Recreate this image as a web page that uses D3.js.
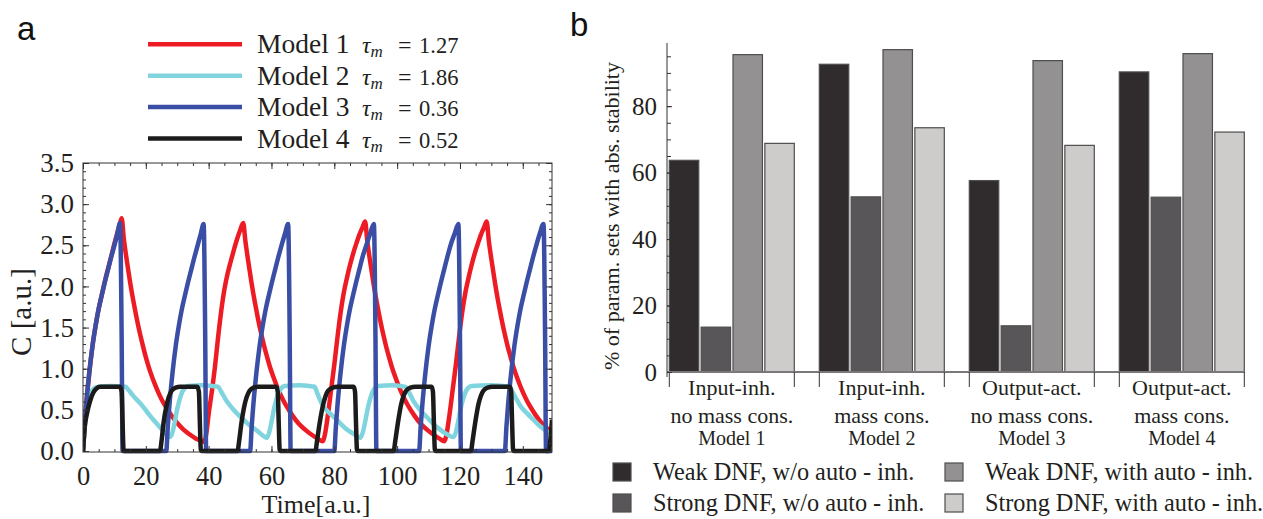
<!DOCTYPE html>
<html><head><meta charset="utf-8">
<script src="https://cdn.jsdelivr.net/npm/d3@7"></script>
<style>body{margin:0;background:#fff} svg{display:block}</style>
</head><body>
<svg id="chart" width="1263" height="519"></svg>
<script>
// ---------- Panel a data ----------
const modelNames = ["Model 1", "Model 2", "Model 3", "Model 4"];
const tauValues = ["1.27", "1.86", "0.36", "0.52"];
const lineColors = ["#ed1c24", "#7fd4dd", "#3a4ea6", "#1b1b1b"];
const timeTicks = [0, 20, 40, 60, 80, 100, 120, 140];
const cTicks = [0, 0.5, 1, 1.5, 2, 2.5, 3, 3.5];

const model1 = [[0,0],[1,0.55],[2,0.95],[3,1.27],[4,1.52],[5,1.73],[6,1.9],[7,2.07],[8,2.22],[9,2.37],[10,2.52],[11,2.66],[11.8,2.77],[12.3,2.83],
[13,2.58],[14,2.3],[15,2.05],[16,1.83],[17,1.63],[18,1.45],[19,1.29],[20,1.14],[21,1.01],[22,0.9],[23,0.8],[24,0.71],[25,0.63],[26,0.56],[28,0.44],[30,0.34],[32,0.26],[34,0.2],[36,0.15],[38,0.12],[38.6,0.11],
[39.2,0.2],[40,0.45],[41,0.72],[42,1.02],[43,1.38],[44,1.7],[45,1.96],[46,2.15],[47,2.3],[48,2.44],[49,2.57],[50,2.68],[51,2.77],
[51.7,2.55],[52.7,2.28],[53.7,2.03],[54.7,1.81],[55.7,1.61],[56.7,1.43],[57.7,1.27],[58.7,1.13],[59.7,1.0],[60.7,0.89],[61.7,0.79],[62.7,0.7],[63.7,0.62],[64.7,0.55],[66.7,0.43],[68.7,0.33],[70.7,0.26],[72.7,0.2],[74.7,0.15],[76.3,0.12],
[77,0.2],[78,0.45],[79,0.75],[80,1.05],[81,1.38],[82,1.68],[83,1.92],[84,2.1],[85,2.26],[86,2.4],[87,2.52],[88,2.63],[89,2.72],[89.8,2.79],
[90.5,2.55],[91.5,2.28],[92.5,2.03],[93.5,1.81],[94.5,1.61],[95.5,1.43],[96.5,1.27],[97.5,1.13],[98.5,1.0],[99.5,0.89],[100.5,0.79],[101.5,0.7],[102.5,0.62],[103.5,0.55],[105.5,0.43],[107.5,0.33],[109.5,0.26],[111.5,0.2],[113.5,0.15],[115,0.12],
[115.7,0.2],[116.7,0.45],[117.7,0.75],[118.7,1.05],[119.7,1.38],[120.7,1.68],[121.7,1.92],[122.7,2.1],[123.7,2.26],[124.7,2.4],[125.7,2.52],[126.7,2.63],[127.7,2.72],[128.5,2.79],
[129.2,2.55],[130.2,2.28],[131.2,2.03],[132.2,1.81],[133.2,1.61],[134.2,1.43],[135.2,1.27],[136.2,1.13],[137.2,1.0],[138.2,0.89],[139.2,0.79],[140.2,0.7],[141.2,0.62],[142.2,0.55],[144.2,0.43],[146.2,0.33],[148.2,0.26],[149.3,0.22]];

const model2 = [[0,0],[0.7,0.35],[1.5,0.58],[2.5,0.71],[3.5,0.76],[5,0.78],[9,0.79],[13.5,0.78],
[14.5,0.74],[16,0.67],[18.2,0.58],[20.3,0.48],[22.4,0.38],[24.5,0.29],[26.6,0.2],[27.7,0.17],
[28.5,0.23],[29.3,0.37],[30,0.51],[30.8,0.63],[31.6,0.72],[32.5,0.77],[33.5,0.79],[38,0.8],[43,0.78],
[44,0.72],[45.5,0.62],[47.5,0.52],[50,0.42],[52.5,0.33],[55.3,0.25],[57.2,0.19],[58.5,0.16],
[59.3,0.23],[60.1,0.37],[60.8,0.51],[61.6,0.63],[62.4,0.72],[63.3,0.77],[64.3,0.79],[69,0.8],[73.7,0.78],
[74.6,0.7],[76.2,0.56],[78.5,0.46],[80.5,0.39],[82.3,0.32],[84,0.26],[86.5,0.2],[88.3,0.16],
[89.1,0.23],[89.9,0.37],[90.6,0.51],[91.4,0.63],[92.2,0.72],[93.1,0.77],[94.1,0.79],[98.5,0.8],[102.7,0.78],
[103.7,0.72],[105.3,0.6],[107.3,0.5],[109.5,0.41],[111.5,0.33],[113.7,0.26],[116,0.2],[117.9,0.17],
[118.7,0.23],[119.5,0.37],[120.2,0.51],[121,0.63],[121.8,0.72],[122.7,0.77],[123.7,0.79],[130,0.8],[135.8,0.78],
[136.8,0.71],[138,0.63],[139.2,0.55],[141.3,0.46],[143.4,0.38],[145.5,0.3],[147.6,0.24],[149.3,0.19]];

const model3 = [[0,0],[0.5,0.3],[1,0.55],[2,0.95],[3,1.27],[4,1.52],[5,1.73],[6,1.9],[7,2.06],[8,2.21],[9,2.36],[10,2.5],[11,2.65],[11.8,2.77],[12.3,1.4],[12.6,0],
[26.5,0],[27,0.3],[27.5,0.55],[28.5,0.95],[29.5,1.27],[30.5,1.52],[31.5,1.73],[32.5,1.9],[33.5,2.06],[34.5,2.21],[35.5,2.36],[36.5,2.5],[37.5,2.64],[38.4,2.76],[38.9,1.4],[39.2,0],
[53.2,0],[53.7,0.3],[54.2,0.55],[55.2,0.95],[56.2,1.27],[57.2,1.52],[58.2,1.73],[59.2,1.9],[60.2,2.06],[61.2,2.21],[62.2,2.36],[63.2,2.5],[64.3,2.64],[65.3,2.76],[65.8,1.4],[66.1,0],
[80,0],[80.5,0.3],[81,0.55],[82,0.95],[83,1.27],[84,1.52],[85,1.73],[86,1.9],[87,2.06],[88,2.21],[89,2.36],[90.2,2.5],[91.4,2.64],[92.6,2.76],[93.1,1.4],[93.4,0],
[107,0],[107.5,0.3],[108,0.55],[109,0.95],[110,1.27],[111,1.52],[112,1.73],[113,1.9],[114,2.06],[115,2.21],[116,2.36],[117,2.5],[118.3,2.64],[119.5,2.76],[120,1.4],[120.3,0],
[134.3,0],[134.8,0.3],[135.3,0.55],[136.3,0.95],[137.3,1.27],[138.3,1.52],[139.3,1.73],[140.3,1.9],[141.3,2.06],[142.3,2.21],[143.3,2.36],[144.3,2.5],[145.4,2.64],[146.6,2.76],[147.1,1.4],[147.4,0],[149.3,0]];

const model4 = [[0,0],[0.5,0.28],[1.3,0.46],[2.2,0.6],[3.3,0.71],[4.3,0.76],[5.5,0.78],[11.8,0.78],[12.3,0.72],[12.6,0.35],[12.9,0.02],[13.2,0],
[24.5,0],[25,0.12],[25.6,0.33],[26.7,0.57],[28.2,0.73],[29.5,0.77],[30.9,0.78],[36.4,0.78],[36.9,0.72],[37.2,0.35],[37.5,0.02],[37.8,0],
[49.2,0],[49.7,0.12],[50.4,0.33],[51.5,0.57],[53,0.73],[54.3,0.77],[55.7,0.78],[61.5,0.78],[62,0.72],[62.3,0.35],[62.6,0.02],[62.9,0],
[74,0],[74.5,0.12],[75.3,0.33],[76.5,0.57],[78,0.73],[79.5,0.77],[81,0.78],[86.2,0.78],[86.6,0.72],[86.9,0.35],[87.2,0.02],[87.5,0],
[98.9,0],[99.4,0.12],[100.2,0.33],[101.3,0.57],[102.8,0.73],[104.2,0.77],[105.8,0.78],[111,0.78],[111.4,0.72],[111.7,0.35],[112,0.02],[112.3,0],
[123.5,0],[124,0.12],[124.8,0.33],[125.9,0.57],[127.4,0.73],[128.8,0.77],[130.3,0.78],[135.9,0.78],[136.3,0.72],[136.6,0.35],[136.9,0.02],[137.2,0],
[148.3,0],[148.8,0.15],[149.3,0.38]];

// ---------- Panel b data ----------
const categoryLine1 = ["Input-inh.", "Input-inh.", "Output-act.", "Output-act."];
const categoryLine2 = ["no mass cons.", "mass cons.", "no mass cons.", "mass cons."];
const categoryModel = ["Model 1", "Model 2", "Model 3", "Model 4"];
const barSeriesNames = ["Weak DNF, w/o auto - inh.", "Strong DNF, w/o auto - inh.", "Weak DNF, with auto - inh.", "Strong DNF, with auto - inh."];
const weakWithout = [63.7, 92.6, 57.6, 90.3];
const strongWithout = [13.5, 52.7, 13.9, 52.6];
const weakWith = [95.5, 97.0, 93.7, 95.8];
const strongWith = [68.8, 73.5, 68.2, 72.2];
const barColors = ["#302c2e", "#59565a", "#939192", "#cdccca"];
const pctTicks = [0, 20, 40, 60, 80];

// ---------- drawing ----------
const svg = d3.select("#chart");
const SERIF = "'Liberation Serif','Times New Roman',serif";
const SANS = "'Liberation Sans',Arial,sans-serif";
const INK = "#231f20";

function styleAxis(g, size) {
  g.attr("font-family", SERIF).attr("font-size", size);
  g.select(".domain").remove();
  g.selectAll("line").attr("stroke", "#333").attr("stroke-width", 1);
  g.selectAll("text").attr("font-family", SERIF).attr("font-size", size).attr("fill", INK);
}

// Panel a
const xA = d3.scaleLinear().domain([0, 149.3]).range([83, 552]);
const yA = d3.scaleLinear().domain([0, 3.5]).range([451, 163]);
const frameTop = 163, frameBottom = 452, frameLeft = 83, frameRight = 552;
const minorT = d3.range(0, 150, 5);
const minorC = d3.range(0, 3.51, 0.1);

svg.append("defs").append("clipPath").attr("id", "clipA")
  .append("rect").attr("x", frameLeft).attr("y", frameTop - 5)
  .attr("width", frameRight - frameLeft).attr("height", frameBottom - frameTop + 10);

const gA = svg.append("g");
const lineGen = d3.line().x(d => xA(d[0])).y(d => yA(d[1])).curve(d3.curveMonotoneX);
const seriesA = [model1, model2, model3, model4];
gA.append("g").attr("clip-path", "url(#clipA)")
  .selectAll("path").data(seriesA).join("path")
  .attr("d", d => lineGen(d))
  .attr("fill", "none")
  .attr("stroke", (d, i) => lineColors[i])
  .attr("stroke-width", 4.5)
  .attr("stroke-linejoin", "round");

// frame
gA.append("rect").attr("x", frameLeft).attr("y", frameTop)
  .attr("width", frameRight - frameLeft).attr("height", frameBottom - frameTop)
  .attr("fill", "none").attr("stroke", "#333").attr("stroke-width", 1);

// ticks
gA.append("g").attr("transform", `translate(0,${frameBottom})`)
  .call(d3.axisBottom(xA).tickValues(minorT).tickSize(-3).tickSizeOuter(0).tickFormat(""))
  .call(g => styleAxis(g, 26));
gA.append("g").attr("transform", `translate(0,${frameBottom})`)
  .call(d3.axisBottom(xA).tickValues(timeTicks).tickSize(-6).tickSizeOuter(0).tickPadding(14).tickFormat(d3.format("d")))
  .call(g => styleAxis(g, 26.5));
gA.append("g").attr("transform", `translate(0,${frameTop})`)
  .call(d3.axisTop(xA).tickValues(minorT).tickSize(-3).tickSizeOuter(0).tickFormat(""))
  .call(g => styleAxis(g, 27));
gA.append("g").attr("transform", `translate(0,${frameTop})`)
  .call(d3.axisTop(xA).tickValues(timeTicks).tickSize(-6).tickSizeOuter(0).tickFormat(""))
  .call(g => styleAxis(g, 27));
gA.append("g").attr("transform", `translate(${frameLeft},0)`)
  .call(d3.axisLeft(yA).tickValues(minorC).tickSize(-3).tickSizeOuter(0).tickFormat(""))
  .call(g => styleAxis(g, 27));
gA.append("g").attr("transform", `translate(${frameLeft},0)`)
  .call(d3.axisLeft(yA).tickValues(cTicks).tickSize(-6).tickSizeOuter(0).tickPadding(9).tickFormat(d3.format(".1f")))
  .call(g => styleAxis(g, 27));
gA.append("g").attr("transform", `translate(${frameRight},0)`)
  .call(d3.axisRight(yA).tickValues(minorC).tickSize(-3).tickSizeOuter(0).tickFormat(""))
  .call(g => styleAxis(g, 27));
gA.append("g").attr("transform", `translate(${frameRight},0)`)
  .call(d3.axisRight(yA).tickValues(cTicks).tickSize(-6).tickSizeOuter(0).tickFormat(""))
  .call(g => styleAxis(g, 27));

// axis titles
gA.append("text").attr("x", 316).attr("y", 512.5).attr("text-anchor", "middle")
  .attr("font-family", SERIF).attr("font-size", 26).attr("fill", INK).text("Time[a.u.]");
gA.append("text").attr("transform", "translate(31,312) rotate(-90)").attr("text-anchor", "middle")
  .attr("font-family", SERIF).attr("font-size", 29).attr("fill", INK).text("C [a.u.]");

// legend a
const legA = gA.append("g");
modelNames.forEach((name, i) => {
  const y = 44.3 + i * 31.4;
  legA.append("line").attr("x1", 148).attr("x2", 242).attr("y1", y).attr("y2", y)
    .attr("stroke", lineColors[i]).attr("stroke-width", 4.5);
  const t = legA.append("text").attr("y", y + 9).attr("font-family", SERIF).attr("fill", INK);
  t.append("tspan").attr("x", 257).attr("font-size", 27.5).text(name);
  t.append("tspan").attr("x", 362).attr("font-size", 24).attr("font-style", "italic").text("τ");
  t.append("tspan").attr("font-size", 17).attr("font-style", "italic").attr("dy", 4).text("m");
  t.append("tspan").attr("x", 398).attr("dy", -4).attr("font-size", 24).text("=");
  t.append("tspan").attr("x", 419).attr("font-size", 22.5).text(tauValues[i]);
});

// panel label a
svg.append("text").attr("x", 17).attr("y", 40).attr("font-family", SANS).attr("font-size", 33).attr("fill", "#111").text("a");

// Panel b
const gB = svg.append("g");
const xB = d3.scaleBand().domain(modelNames).range([669.3, 1244.3]).paddingInner(1 / 6).paddingOuter(0);
const xSub = d3.scaleBand().domain([0, 1, 2, 3]).range([0, xB.bandwidth()]).paddingInner(0.075);
const yB = d3.scaleLinear().domain([0, 99]).range([372, 43]);
const barValues = [weakWithout, strongWithout, weakWith, strongWith];

barValues.forEach((vals, s) => {
  gB.append("g").selectAll("rect").data(vals).join("rect")
    .attr("x", (d, i) => xB(modelNames[i]) + xSub(s))
    .attr("y", d => yB(d))
    .attr("width", xSub.bandwidth())
    .attr("height", d => yB(0) - yB(d))
    .attr("fill", barColors[s])
    .attr("stroke", "#4f4d4e").attr("stroke-width", 1.2);
});

// x axis baseline
gB.append("line").attr("x1", 667).attr("x2", 1245).attr("y1", yB(0)).attr("y2", yB(0))
  .attr("stroke", "#7a7879").attr("stroke-width", 2);
// group edge ticks
modelNames.forEach(m => {
  [xB(m), xB(m) + xB.bandwidth()].forEach(x => {
    gB.append("line").attr("x1", x).attr("x2", x).attr("y1", yB(0)).attr("y2", yB(0) + 15)
      .attr("stroke", "#333").attr("stroke-width", 1);
  });
});
// y axis
gB.append("line").attr("x1", 667).attr("x2", 667).attr("y1", 43).attr("y2", 377)
  .attr("stroke", "#333").attr("stroke-width", 1);
gB.append("g").attr("transform", "translate(667,0)")
  .call(d3.axisLeft(yB).tickValues(d3.range(0, 96, 5)).tickSize(-4).tickSizeOuter(0).tickFormat(""))
  .call(g => styleAxis(g, 25));
gB.append("g").attr("transform", "translate(667,0)")
  .call(d3.axisLeft(yB).tickValues(pctTicks).tickSize(-5).tickSizeOuter(0).tickPadding(10).tickFormat(d3.format("d")))
  .call(g => styleAxis(g, 25));

gB.append("text").attr("transform", "translate(619,216) rotate(-90)").attr("text-anchor", "middle")
  .attr("font-family", SERIF).attr("font-size", 22).attr("fill", INK)
  .text("% of param. sets with abs. stability");

// category labels
modelNames.forEach((m, i) => {
  const cx = xB(m) + xB.bandwidth() / 2;
  gB.append("text").attr("x", cx).attr("y", 395).attr("text-anchor", "middle")
    .attr("font-family", SERIF).attr("font-size", 22).attr("fill", INK).text(categoryLine1[i]);
  gB.append("text").attr("x", cx).attr("y", 423).attr("text-anchor", "middle")
    .attr("font-family", SERIF).attr("font-size", 22).attr("fill", INK).text(categoryLine2[i]);
  gB.append("text").attr("x", cx).attr("y", 445).attr("text-anchor", "middle")
    .attr("font-family", SERIF).attr("font-size", 20).attr("fill", INK).text(categoryModel[i]);
});

// legend b
const legPos = [[613, 653, 463], [613, 653, 494], [945, 985, 463], [945, 985, 494]];
barSeriesNames.forEach((name, s) => {
  const [sx, tx, sy] = legPos[s];
  gB.append("rect").attr("x", sx).attr("y", sy).attr("width", 18).attr("height", 18)
    .attr("fill", barColors[s]).attr("stroke", "#4f4d4e").attr("stroke-width", 1.2);
  gB.append("text").attr("x", tx).attr("y", sy + 17).attr("font-family", SERIF)
    .attr("font-size", 24.3).attr("fill", INK).text(name);
});

svg.append("text").attr("x", 570).attr("y", 36).attr("font-family", SANS).attr("font-size", 33).attr("fill", "#111").text("b");
</script>
</body></html>
